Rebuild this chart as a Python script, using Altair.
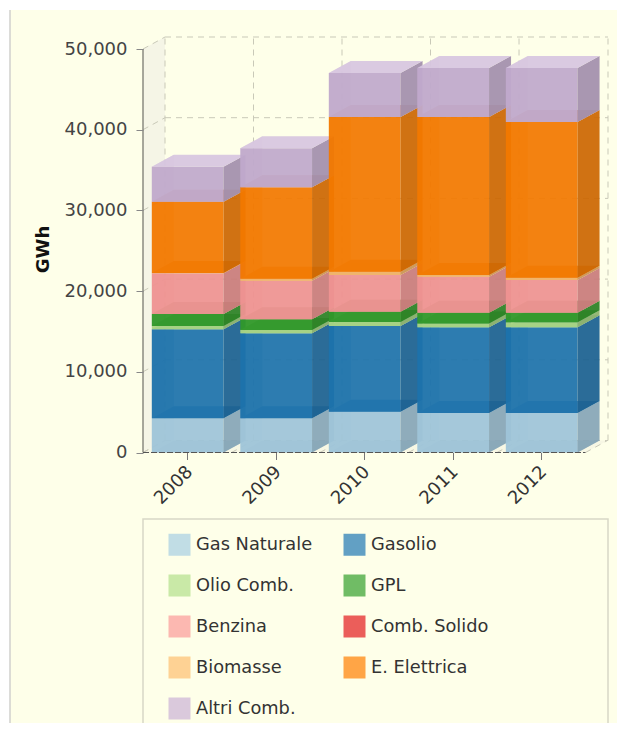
import altair as alt
import pandas as pd

years = [2008, 2009, 2010, 2011, 2012]
series = ["Gas Naturale", "Gasolio", "Olio Comb.", "GPL", "Benzina",
          "Comb. Solido", "Biomasse", "E. Elettrica", "Altri Comb."]
gas_naturale = [4240, 4240, 5060, 4890, 4890]
gasolio = [11030, 10530, 10610, 10620, 10620]
olio_comb = [400, 410, 500, 490, 620]
gpl = [1490, 1320, 1280, 1330, 1200]
benzina = [5040, 4790, 4550, 4460, 4050]
comb_solido = [0, 0, 0, 0, 0]
biomasse = [40, 250, 410, 210, 280]
e_elettrica = [8840, 11320, 19160, 19570, 19290]
altri_comb = [4330, 4830, 5460, 6080, 6700]
values = [gas_naturale, gasolio, olio_comb, gpl, benzina, comb_solido,
          biomasse, e_elettrica, altri_comb]
colors = ["#a6cee3", "#1f78b4", "#b2df8a", "#33a02c", "#fb9a99",
          "#e31a1c", "#fdbf6f", "#ff7f00", "#cab2d6"]
y_ticks = [0, 10000, 20000, 30000, 40000, 50000]

X0, X1 = 2007.5, 2012.754
DX = 22 / 88.5
DY = 12 / 403.5 * 50000
YMAX = 50000 + DY
CREAM = "#feffe9"
GRID = "#c9c9b8"
FONT = "DejaVu Sans"


def mix(hexc, other, t):
    a = [int(hexc[i:i + 2], 16) for i in (1, 3, 5)]
    b = [int(other[i:i + 2], 16) for i in (1, 3, 5)]
    return "#" + "".join(f"{round(p + (q - p) * t):02x}" for p, q in zip(a, b))


rows = []
fid = 0


def face(pts, fill, op):
    global fid
    fid += 1
    for x, lo, hi in pts:
        rows.append(dict(x=x, y=lo, y2=hi, face=fid, fill=fill, op=op))


def box(x0, x1, lo, hi, c):
    # back-of-box faces first, then the ones facing the viewer
    face([(x0, lo, lo), (x0 + DX, lo, lo + DY), (x1, lo, lo + DY), (x1 + DX, lo + DY, lo + DY)],
         mix(c, "#000000", 0.12), 0.55)
    face([(x0, lo, hi), (x0 + DX, lo + DY, hi + DY)], c, 0.35)
    face([(x0, lo, hi), (x1, lo, hi)], mix(c, "#000000", 0.05), 0.93)
    face([(x1, lo, hi), (x1 + DX, lo + DY, hi + DY)], mix(c, "#000000", 0.2), 0.92)
    face([(x0, hi, hi), (x0 + DX, hi, hi + DY), (x1, hi, hi + DY), (x1 + DX, hi + DY, hi + DY)],
         mix(c, "#ffffff", 0.25), 0.92)


for i, yr in enumerate(years):
    base = 0
    for vals, c in zip(values, colors):
        v = vals[i]
        if v > 0:
            box(yr - 0.40, yr + 0.41, base, base + v, c)
        base += v

faces = pd.DataFrame(rows)

xs = alt.Scale(domain=[X0, X1], nice=False, zero=False)
ys = alt.Scale(domain=[0, YMAX], nice=False, zero=False)
x_axis = alt.Axis(values=years, format="d", labelAngle=-45, domain=False, grid=False,
                  tickSize=7, tickColor="#777777", labelFont=FONT, labelFontSize=18,
                  labelColor="#333333", labelPadding=3, labelOffset=-4, zindex=1)
y_axis = alt.Axis(values=y_ticks, format=",.0f", domain=False, grid=False, tickSize=7,
                  tickColor="#888888", labelFont=FONT, labelFontSize=18,
                  labelColor="#444444", labelPadding=9, titleFont=FONT,
                  titleFontSize=18, titleFontWeight="bold", titleColor="#111111",
                  titleX=-91, titleY=212, zindex=1)


def X():
    return alt.X("x:Q", scale=xs, title=None, axis=x_axis)


def Y():
    return alt.Y("y:Q", scale=ys, title="GWh", axis=y_axis)


one = pd.DataFrame({"a": [1]})
background = alt.Chart(one).mark_rect(fill=CREAM).encode(
    x=alt.value(-133), x2=alt.value(500), y=alt.value(-27), y2=alt.value(720))
background2 = alt.Chart(one).mark_rect(fill=CREAM).encode(
    x=alt.value(400), x2=alt.value(640), y=alt.value(-27), y2=alt.value(720))
left_edge = alt.Chart(one).mark_rule(color="#d0d0cc", strokeWidth=1.5).encode(
    x=alt.value(-133), y=alt.value(-27), y2=alt.value(720))

# side wall and floor
wall = pd.DataFrame({"x": [X0, X0 + DX], "y": [0, DY], "y2": [50000, 50000 + DY]})
wall_layer = alt.Chart(wall).mark_area(fill="#f5f5e6").encode(x=X(), y=Y(), y2=alt.Y2("y2:Q"))
floor = pd.DataFrame({"x": [X0, X0 + DX, 2012.5, 2012.5 + DX], "y": [0, 0, 0, DY],
                      "y2": [0, DY, DY, DY]})
floor_layer = alt.Chart(floor).mark_area(fill="#f7f7e4").encode(x=X(), y=Y(), y2=alt.Y2("y2:Q"))

# dashed grid on the back walls
hgrid = pd.DataFrame({"x": X0 + DX, "x2": X1, "y": [t + DY for t in y_ticks]})
hgrid_layer = alt.Chart(hgrid).mark_rule(color=GRID, strokeDash=[6, 5]).encode(
    x=X(), x2=alt.X2("x2:Q"), y=Y())
edges = [y + 0.5 for y in years[:-1]]
vgrid = pd.DataFrame({"x": [X0 + DX] + [e + DX for e in edges] + [X1], "y": DY, "y2": 50000 + DY})
vgrid_layer = alt.Chart(vgrid).mark_rule(color=GRID, strokeDash=[6, 5]).encode(
    x=X(), y=Y(), y2=alt.Y2("y2:Q"))
diag_rows = []
for t in y_ticks:
    diag_rows += [dict(x=X0, y=t, k=f"w{t}"), dict(x=X0 + DX, y=t + DY, k=f"w{t}")]
for e in [X0] + edges + [2012.5]:
    diag_rows += [dict(x=e, y=0, k=f"f{e}"), dict(x=e + DX, y=DY, k=f"f{e}")]
diag_layer = alt.Chart(pd.DataFrame(diag_rows)).mark_line(color=GRID, strokeDash=[6, 5], strokeWidth=1).encode(
    x=X(), y=Y(), detail="k:N")

bars = alt.Chart(faces).mark_area(interpolate="linear").encode(
    x=X(), y=Y(), y2=alt.Y2("y2:Q"),
    fill=alt.Fill("fill:N", scale=None), fillOpacity=alt.FillOpacity("op:Q", scale=None),
    detail="face:N")

# axis lines
y_line = alt.Chart(pd.DataFrame({"x": [X0], "y": [0], "y2": [50000]})).mark_rule(
    color="#8a8a80", strokeWidth=1.5).encode(x=X(), y=Y(), y2=alt.Y2("y2:Q"))
x_line = alt.Chart(pd.DataFrame({"x": [X0], "x2": [2012.5], "y": [0]})).mark_rule(
    color="#555555", strokeWidth=1.2, strokeDash=[6, 2]).encode(
    x=X(), x2=alt.X2("x2:Q"), y=Y())

# legend frame and legend
legend_box = alt.Chart(one).mark_rect(fillOpacity=0, stroke="#d8d8c6", strokeWidth=1.5).encode(
    x=alt.value(0), x2=alt.value(465), y=alt.value(482), y2=alt.value(760))
legend_layer = alt.Chart(pd.DataFrame({"s": series})).mark_square(size=0).encode(
    x=alt.value(-300), y=alt.value(-300),
    color=alt.Color("s:N", scale=alt.Scale(domain=series, range=colors), legend=alt.Legend(
        orient="none", legendX=25, legendY=496, columns=2, direction="horizontal", title=None,
        symbolType="square", symbolSize=484, symbolOpacity=0.7, symbolStrokeWidth=1,
        labelFont=FONT, labelFontSize=17.8, labelColor="#333333", labelOffset=5, labelLimit=300,
        rowPadding=18, columnPadding=30, padding=0, gridAlign="each")))

chart = alt.layer(background, background2, left_edge, wall_layer, floor_layer, hgrid_layer, vgrid_layer,
                  diag_layer, bars, y_line, x_line, legend_box, legend_layer).properties(
    width=465, height=415.5, background="transparent",
    autosize=alt.AutoSizeParams(type="none"),
    padding={"left": 135, "top": 29, "right": 9, "bottom": 270.5},
).configure_view(stroke=None)

chart.save("out.html", embed_options={"renderer": "svg", "actions": False})
